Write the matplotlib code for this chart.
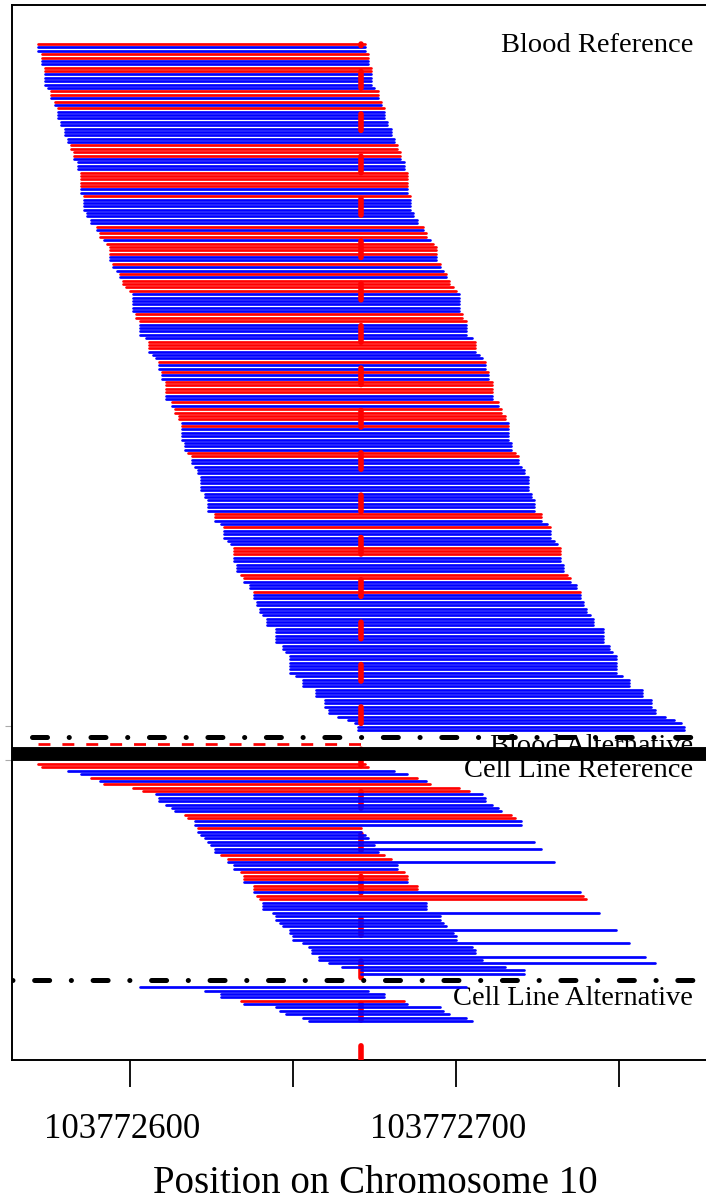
import numpy as np
import matplotlib.pyplot as plt
from matplotlib.transforms import ScaledTranslation

plt.rcParams['font.family'] = ['Liberation Serif', 'DejaVu Serif']
plt.rcParams['lines.scale_dashes'] = False

# positions are offsets from this base on chromosome 10
base = 103772500
snp = 171
read_len = 100

# blood, reads carrying the reference base (one read per row, top to bottom)
blood_ref_start = [
    72, 72, 72, 73, 73, 73, 73, 74, 74, 74, 74, 74, 74, 75, 76, 76, 76, 77, 77, 78,
    78, 78, 78, 79, 79, 80, 80, 80, 81, 81, 82, 82, 83, 83, 83, 84, 84, 84, 85, 85,
    85, 85, 85, 85, 85, 86, 86, 86, 86, 86, 87, 87, 88, 88, 90, 90, 91, 91, 92, 93,
    94, 94, 94, 94, 94, 95, 95, 96, 97, 97, 98, 98, 99, 100, 101, 101, 101, 101, 101, 101,
    102, 102, 103, 103, 103, 103, 103, 105, 106, 106, 106, 106, 107, 108, 109, 109, 109, 110, 110, 110,
    111, 111, 111, 111, 111, 111, 113, 113, 114, 114, 115, 115, 116, 116, 116, 116, 116, 116, 117, 117,
    117, 118, 119, 119, 119, 120, 121, 121, 122, 122, 122, 122, 122, 123, 123, 124, 124, 124, 124, 126,
    126, 126, 128, 129, 129, 129, 129, 130, 131, 132, 132, 132, 132, 132, 133, 133, 133, 134, 135, 135,
    137, 137, 138, 138, 138, 139, 139, 140, 140, 141, 142, 142, 142, 145, 145, 145, 145, 145, 147, 147,
    148, 149, 149, 149, 149, 149, 149, 151, 153, 153, 153, 157, 157, 157, 160, 160, 160, 161, 161, 164,
    167, 169, 170, 170,
]
blood_ref_strand = (
    "+--++--++-" "----++-+-+" "----------" "++++----++" "+++--+----"
    "----+-++-++"
    "++--+--+-++++" "------" "+++" "----" "-" "+++" "---" "+" "--" "+" "--"
    "++++" "--" "+" "-" "++++" "-"
    "+" "-------" "++" "----------------" "++" "--" "+" "-----" "+++" "-----"
    "++" "---"
    "+" + "-" * 41
)

# blood, reads carrying the alternative base
blood_alt_start = [72]

# cell line, reference and alternative reads (two read lengths occur)
cell_ref_start = [
    72, 73, 81, 85, 88, 91, 92, 101, 104, 108, 109, 109, 111, 113, 114, 117, 118, 120, 120, 121,
    121, 122, 123, 124, 125, 126, 126, 128, 130, 130, 132, 132, 134, 135, 135, 135, 138, 138, 138, 139,
    140, 141, 141, 141, 144, 145, 145, 146, 147, 149, 149, 150, 150, 153, 155, 156, 156, 158, 158, 161,
    165, 171, 171,
]
cell_ref_len = [
    100, 100, 100, 100, 100, 100, 100, 100, 100, 100, 100, 100, 100, 100, 100, 100, 100, 100, 100, 50,
    50, 50, 50, 100, 50, 100, 50, 50, 50, 100, 50, 50, 50, 50, 50, 50, 50, 50, 100, 100,
    100, 50, 50, 50, 100, 50, 50, 50, 50, 100, 50, 50, 50, 100, 50, 50, 50, 100, 50, 100,
    50, 50, 50,
]
cell_ref_strand = (
    "++--+-+++-" "-----++--+" "-------++-" "--+++-++-+" "+--------" "--------------"
)

cell_alt_start = [103, 123, 128, 128, 134, 135, 145, 146, 148, 153, 155]
cell_alt_len = [100, 50, 50, 50, 50, 50, 50, 50, 50, 50, 50]
cell_alt_strand = "----+------"

strand_color = {'+': '#ff0000', '-': '#0000ff'}

# row layout: each read one row, gaps between groups
n_br = len(blood_ref_start)
y_br = np.arange(n_br)
y_ba = y_br[-1] + 4 + np.arange(len(blood_alt_start))
y_cr = y_ba[-1] + 6 + np.arange(len(cell_ref_start))
y_ca = y_cr[-1] + 4 + np.arange(len(cell_alt_start))
blood_sep = y_br[-1] + 2
sample_sep = y_ba[-1] + 3
cell_sep = y_cr[-1] + 2
span = y_ca[-1] - y_br[0]

fig = plt.figure(figsize=(7.06, 12.02), dpi=100)
ax = fig.add_axes([12 / 706, 142 / 1202, 760 / 706, 1055 / 1202])

lw_read = 1.95

ax.hlines(y_br, base + np.array(blood_ref_start), base + np.array(blood_ref_start) + read_len,
          colors=[strand_color[s] for s in blood_ref_strand], linewidth=lw_read,
          capstyle='round', zorder=2)
ax.hlines(y_ba, base + np.array(blood_alt_start), base + np.array(blood_alt_start) + read_len,
          colors='#ff0000', linewidth=lw_read, linestyles=[(0, (8.6, 8.6))], zorder=2)

# SNP position
ax.plot([base + snp, base + snp], [y_br[0], y_ca[-1] + 30], color='#ff0000', lw=4,
        linestyle=(10.7, (11.9, 18.6)), dash_capstyle='round', zorder=3)

ax.hlines(y_cr, base + np.array(cell_ref_start),
          base + np.array(cell_ref_start) + np.array(cell_ref_len),
          colors=[strand_color[s] for s in cell_ref_strand], linewidth=lw_read,
          capstyle='round', zorder=4)
ax.hlines(y_ca, base + np.array(cell_alt_start),
          base + np.array(cell_alt_start) + np.array(cell_alt_len),
          colors=[strand_color[s] for s in cell_alt_strand], linewidth=lw_read,
          capstyle='round', zorder=4)

dotdash = (10.8, 15.6, 0.1, 15.6)
ax.plot([base + 70, base + 400], [blood_sep, blood_sep], color='black', lw=3.6,
        linestyle=(0, dotdash), dash_capstyle='round', zorder=5)
ax.plot([base + 60, base + 400], [cell_sep, cell_sep], color='black', lw=3.6,
        linestyle=(16.8, dotdash), dash_capstyle='round', zorder=5)
ax.axhline(sample_sep, color='black', lw=10, zorder=5)

lab_x = base + 272.7
ax.text(lab_x, y_br[0] + 2.3, 'Blood Reference', ha='right', va='baseline', fontsize=20.5)
ax.text(lab_x, y_ba[0] + 2.6, 'Blood Alternative', ha='right', va='baseline', fontsize=20.5)
ax.text(lab_x, y_cr[0] + 3.9, 'Cell Line Reference', ha='right', va='baseline', fontsize=20.5)
ax.text(lab_x, y_ca[0] + 5.3, 'Cell Line Alternative', ha='right', va='baseline', fontsize=20.5)

ax.set_xlim(103772563.9, 103772796.96)
ax.set_ylim(y_ca[-1] + 0.04 * span, y_br[0] - 0.04 * span)

ax.set_xticks([103772600, 103772650, 103772700, 103772750])
ax.set_xticklabels(['103772600', '', '103772700', ''])
ax.tick_params(axis='x', length=19.2, width=1.3, labelsize=25, pad=19)
for lab in ax.get_xticklabels():
    lab.set_transform(lab.get_transform() + ScaledTranslation(-8 / 100, 0, fig.dpi_scale_trans))

ax.set_yticks([y_br[-1] - 1.4, y_cr[0] - 1.2])
ax.tick_params(axis='y', length=5, width=0.8, color='#aaaaaa', labelleft=False)

for sp in ax.spines.values():
    sp.set_linewidth(1.4)

fig.text(375.5 / 706, 9 / 1202, 'Position on Chromosome 10', ha='center', va='baseline',
         fontsize=28)

fig.savefig('out.png', dpi=100)
